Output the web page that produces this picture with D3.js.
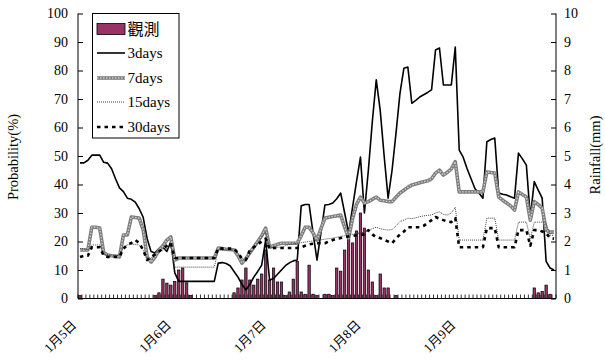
<!DOCTYPE html>
<html><head><meta charset="utf-8">
<script src="https://cdn.jsdelivr.net/npm/d3@7"></script>
<style>
html,body{margin:0;padding:0;background:#fff;}
svg{display:block;}
text{font-family:"Liberation Serif","Times New Roman","Noto Sans CJK TC",serif;fill:#000;}
</style></head><body>
<svg id="chart" width="605" height="360"></svg>
<script>
// hourly steps from 1/5 00:00 to 1/10 00:00
const hours = d3.range(121);
const dayLabels = ["1月5日", "1月6日", "1月7日", "1月8日", "1月9日"];
const dayTickIndex = [0, 24, 48, 72, 96];
const leftTicks = [0, 10, 20, 30, 40, 50, 60, 70, 80, 90, 100];
const rightTicks = [0, 1, 2, 3, 4, 5, 6, 7, 8, 9, 10];

// observed hourly rainfall (mm)
const rain = [
  0.1, 0, 0, 0, 0, 0, 0, 0, 0, 0,
  0, 0, 0, 0, 0, 0, 0, 0, 0, 0.1,
  0.2, 0.68, 0.54, 0.47, 0.6, 1.0, 1.07, 0.55, 0.1, 0,
  0, 0, 0, 0, 0, 0, 0, 0, 0, 0.2,
  0.37, 0.65, 1.07, 0.65, 0.47, 0.68, 0.86, 1.7, 0.65, 1.07,
  0.58, 0.58, 0.1, 0.23, 0.68, 1.3, 0.23, 0.15, 1.17, 0.15,
  0.1, 0, 0.15, 0.15, 0.1, 1.07, 0.96, 1.7, 2.08, 1.95,
  2.37, 3.0, 2.47, 1.0, 0.58, 0.1, 0.86, 0.37, 0.37, 0,
  0.1, 0, 0, 0, 0, 0, 0, 0, 0, 0,
  0, 0, 0, 0, 0, 0, 0, 0, 0, 0,
  0, 0, 0, 0, 0, 0, 0, 0, 0, 0,
  0, 0, 0, 0, 0, 0.37, 0.2, 0.25, 0.47, 0.15,
  0
];

// probability forecasts (%)
const p3days = [
  47.6, 47.6, 48.5, 50.3, 50.3, 50.3, 47.8, 47.5, 45.5, 42,
  38.8, 37.5, 35.2, 34.8, 33.8, 31.5, 28.5, 21, 16.5, 16,
  17.5, 18, 16.5, 20, 9, 6, 6, 6, 6, 6,
  6, 6, 6, 6, 6, 12.4, 12.6, 12.3, 11.5, 9.5,
  7.5, 5, 3, 5, 7.5, 9.5, 11.7, 20.5, 6.5, 7,
  8.5, 10, 11.5, 12.5, 13.2, 13.5, 32.5, 33, 33, 23,
  13.5, 23, 32.8, 33, 33.5, 35, 37, 30, 23, 32,
  41, 49.6, 30, 45, 62, 76.7, 66, 50, 35.2, 45,
  58, 72, 80.8, 81.2, 68.5, 69.5, 70.7, 71.5, 72.3, 73.2,
  87.2, 87.9, 74.9, 74.9, 74.9, 88.2, 52.1, 49.6, 45.5, 42,
  38.5, 37, 35.2, 55, 55.8, 56.3, 37, 36.6, 36.3, 35.7,
  35.2, 51, 49, 46.8, 28.6, 41, 38, 35.2, 13, 10.7,
  10
];
const p7days = [
  17, 17, 17, 25, 25, 24.7, 16, 15.3, 15, 14.8,
  14.6, 22.3, 22.3, 28.6, 28.4, 28.2, 24, 14.6, 12.8, 14.5,
  17, 18.5, 20.5, 21.6, 13.5, 14.2, 14.2, 14.2, 14.2, 14.2,
  14.2, 14.2, 14.2, 14.2, 14.2, 17.7, 17.5, 17.3, 17.2, 17,
  15, 12.4, 14, 16, 18, 20, 22, 24.7, 18, 18.5,
  19, 19.4, 19.4, 19.4, 19.4, 19.4, 22, 25, 25, 23,
  20.5, 24.5, 28.2, 28.5, 28.8, 29, 29.3, 25, 21.2, 28,
  33, 35.6, 33.5, 34, 34.8, 35.6, 34.5, 34.3, 34, 34,
  35.5, 37, 38, 39, 39.8, 40.2, 40.6, 41, 41.3, 42,
  44, 45, 43.3, 44.3, 45.5, 48, 37.4, 37.4, 37.4, 37.4,
  37.4, 37.4, 37.4, 44.4, 44.2, 44, 35.6, 34.5, 33.5, 32.5,
  31, 37.4, 36.5, 35.6, 27.5, 34, 33, 31.7, 24, 23.3,
  23.3
];
const p15days = [
  17.5, 17.5, 17, 18.8, 18.8, 18.8, 15.5, 15.3, 15.2, 15.2,
  15.2, 18, 18.8, 19, 19, 18.8, 17, 14.2, 14, 16,
  16.5, 17, 17.5, 18, 11, 11, 11, 11, 11, 11,
  11, 11, 11, 11, 11, 17, 17, 17, 17, 17,
  16, 14, 13.5, 15.5, 17.5, 19.5, 21.5, 23.3, 18, 18,
  18, 18, 18.5, 19, 19.2, 19.4, 19.6, 19.8, 20, 20.2,
  20.5, 20.6, 20.8, 21, 21.2, 21.5, 21.8, 22, 22.3, 22.5,
  22.8, 23, 23.3, 23.8, 24.5, 25, 24.5, 24.2, 24, 24.2,
  25.5, 27, 27.5, 28.2, 28, 28.3, 28.7, 29, 29.2, 29.3,
  30, 30.4, 29.5, 29.3, 30, 32, 20.5, 20.5, 20.5, 20.5,
  20.5, 20.5, 20.5, 28.2, 28.2, 28.2, 20.5, 20.5, 20.5, 20.5,
  20.5, 26.8, 26.8, 26.8, 21, 26.8, 26.8, 26.8, 26.5, 22.3,
  22
];
const p30days = [
  14.6, 15, 15, 18, 18, 18, 15, 14.6, 14.6, 14.6,
  14.6, 17.5, 18.8, 19.5, 20.5, 19.5, 17, 13.5, 14.5, 15.5,
  16.5, 17.5, 18.5, 19.4, 14.2, 14.2, 14.2, 14.2, 14.2, 14.2,
  14.2, 14.2, 14.2, 14.2, 14.2, 17.7, 17.5, 17.5, 17.5, 17.5,
  16, 14, 13.5, 17, 18, 19, 20, 21, 17.5, 17.7,
  17.7, 17.7, 17.7, 17.7, 17.7, 17.7, 18, 18.5, 19, 19.2,
  19.4, 19.4, 19.4, 20, 20.5, 21, 21.2, 21.5, 21.8, 22,
  22.2, 22.3, 22.5, 24, 22.5, 21.5, 21.2, 20.5, 20, 19.4,
  21, 22.5, 23.5, 25, 25, 25, 25, 25.5, 26.5, 27.5,
  28.6, 28, 27.5, 27, 26.8, 28.2, 18, 18, 18, 18,
  18, 18, 18, 24.7, 24.7, 24.7, 18, 18, 18, 18,
  18, 24, 24, 24, 18.5, 24, 24, 23.5, 23, 21.2,
  21
];

const svg = d3.select("#chart");
const plot = {left: 78, right: 556, top: 13.5, bottom: 298.5};

const x = d3.scaleBand().domain(hours).range([plot.left, plot.right]);
const bw = x.bandwidth();
const cx = i => x(i) + bw / 2;
const yP = d3.scaleLinear().domain([0, 100]).range([plot.bottom, plot.top]);
const yR = d3.scaleLinear().domain([0, 10]).range([plot.bottom, plot.top]);

// rainfall columns on the right axis
const barW = bw * 0.6;
svg.append("g").selectAll("rect")
  .data(rain.map((v, i) => ({v, i})).filter(d => d.v > 0))
  .join("rect")
  .attr("x", d => cx(d.i) - barW / 2)
  .attr("y", d => yR(d.v))
  .attr("width", barW)
  .attr("height", d => yR(0) - yR(d.v))
  .attr("fill", "#993366")
  .attr("stroke", "#000")
  .attr("stroke-width", 0.7);

// hourly tick marks on the category axis
const bounds = hours.map(i => x(i)).concat([plot.right]);
svg.append("g").selectAll("line")
  .data(bounds)
  .join("line")
  .attr("x1", d => d).attr("x2", d => d)
  .attr("y1", plot.bottom).attr("y2", plot.bottom - 4)
  .attr("stroke", "#000").attr("stroke-width", 0.8);

// forecast lines
const line = d3.line().x((d, i) => cx(i)).y(d => yP(d));
const g = svg.append("g").attr("fill", "none").attr("stroke-linejoin", "round");
g.append("path").attr("d", line(p3days)).attr("stroke", "#000").attr("stroke-width", 1.6);
g.append("path").attr("d", line(p7days)).attr("stroke", "#7d7d7d").attr("stroke-width", 3.6);
g.append("path").attr("d", line(p7days)).attr("stroke", "#d0d0d0").attr("stroke-width", 1.3).attr("stroke-dasharray", "1.5,1.5");
g.append("path").attr("d", line(p15days)).attr("stroke", "#444").attr("stroke-width", 1).attr("stroke-dasharray", "1,1");
g.append("path").attr("d", line(p30days)).attr("stroke", "#000").attr("stroke-width", 2.6).attr("stroke-dasharray", "3.5,4");

// axes
const axL = svg.append("g").attr("transform", `translate(${plot.left},0)`)
  .call(d3.axisLeft(yP).tickValues(leftTicks).tickSize(-5).tickPadding(10).tickFormat(d3.format("d")));
const axR = svg.append("g").attr("transform", `translate(${plot.right},0)`)
  .call(d3.axisRight(yR).tickValues(rightTicks).tickSize(-5).tickPadding(8).tickFormat(d3.format("d")));
[axL, axR].forEach(a => {
  a.select(".domain").attr("d", `M0,${plot.top}V${plot.bottom}`).attr("stroke", "#000");
  a.selectAll(".tick line").attr("stroke", "#000");
  a.selectAll("text").attr("font-size", 14).attr("font-family", "Liberation Serif, serif").attr("fill", "#222");
});
svg.append("line")
  .attr("x1", plot.left).attr("x2", plot.right)
  .attr("y1", plot.bottom).attr("y2", plot.bottom)
  .attr("stroke", "#000");

// day labels
svg.append("g").selectAll("text")
  .data(dayTickIndex)
  .join("text")
  .attr("transform", (d) => `translate(${cx(d) - 6},${plot.bottom + 24}) rotate(-45)`)
  .attr("text-anchor", "end")
  .attr("dy", "0.35em")
  .attr("font-size", 13)
  .attr("fill", "#222")
  .text((d, i) => dayLabels[i]);

// axis titles
svg.append("text")
  .attr("transform", "translate(18,157) rotate(-90)")
  .attr("text-anchor", "middle").attr("font-size", 14.5).attr("fill", "#222")
  .text("Probability(%)");
svg.append("text")
  .attr("transform", "translate(600,155) rotate(-90)")
  .attr("text-anchor", "middle").attr("font-size", 14.5).attr("fill", "#222")
  .text("Rainfall(mm)");

// legend
const lg = svg.append("g");
lg.append("rect").attr("x", 92.5).attr("y", 13.5).attr("width", 86.5).attr("height", 124.5)
  .attr("fill", "#fff").attr("stroke", "#000");
const rows = [29, 53, 78, 102, 127];
lg.append("rect").attr("x", 97).attr("y", rows[0] - 5.5).attr("width", 28).attr("height", 11)
  .attr("fill", "#993366").attr("stroke", "#000").attr("stroke-width", 0.8);
lg.append("line").attr("x1", 97).attr("x2", 125).attr("y1", rows[1]).attr("y2", rows[1])
  .attr("stroke", "#000").attr("stroke-width", 1.6);
lg.append("line").attr("x1", 97).attr("x2", 125).attr("y1", rows[2]).attr("y2", rows[2])
  .attr("stroke", "#7d7d7d").attr("stroke-width", 3.6);
lg.append("line").attr("x1", 97).attr("x2", 125).attr("y1", rows[2]).attr("y2", rows[2])
  .attr("stroke", "#d0d0d0").attr("stroke-width", 1.3).attr("stroke-dasharray", "1.5,1.5");
lg.append("line").attr("x1", 97).attr("x2", 125).attr("y1", rows[3]).attr("y2", rows[3])
  .attr("stroke", "#444").attr("stroke-width", 1).attr("stroke-dasharray", "1,1");
lg.append("line").attr("x1", 97).attr("x2", 125).attr("y1", rows[4]).attr("y2", rows[4])
  .attr("stroke", "#000").attr("stroke-width", 2.6).attr("stroke-dasharray", "3.5,4");
const names = ["觀測", "3days", "7days", "15days", "30days"];
lg.selectAll("text.lbl").data(names).join("text")
  .attr("class", "lbl")
  .attr("x", 127.5).attr("y", (d, i) => rows[i]).attr("dy", "0.35em")
  .attr("font-size", (d, i) => i === 0 ? 16 : 15)
  .attr("fill", "#222")
  .text(d => d);
</script>
</body></html>
